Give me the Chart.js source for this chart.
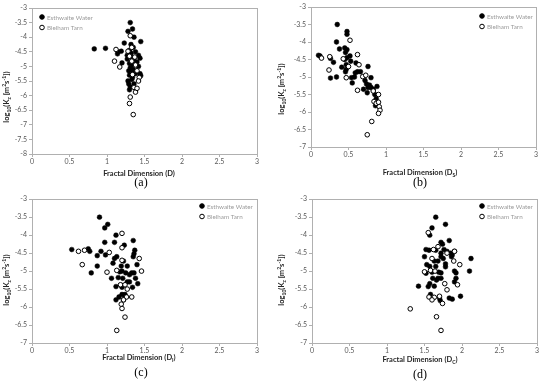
<!DOCTYPE html>
<html>
<head>
<meta charset="utf-8">
<script src="https://cdn.jsdelivr.net/npm/chart.js@4"></script>
<style>
  body { margin: 0; background: #fff; width: 550px; height: 386px; position: relative; overflow: hidden; }
  canvas { position: absolute; }
</style>
</head>
<body>
<canvas id="pa" width="275" height="193" style="left:0;top:0"></canvas>
<canvas id="pb" width="275" height="193" style="left:275px;top:0"></canvas>
<canvas id="pc" width="275" height="193" style="left:0;top:193px"></canvas>
<canvas id="pd" width="275" height="193" style="left:275px;top:193px"></canvas>
<script>
  var seriesNames = ['Esthwaite Water', 'Blelham Tarn'];
  var xTicks = [0, 0.5, 1, 1.5, 2, 2.5, 3];

  // (a) fractal dimension D
  var esthA = [[0.83,-4.4],[0.98,-4.38],[1.31,-3.5],[1.34,-3.72],[1.28,-3.8],[1.36,-4.0],[1.23,-4.2],[1.45,-4.15],
    [1.32,-4.25],[1.35,-4.35],[1.15,-4.5],[1.19,-4.48],[1.14,-4.57],[1.27,-4.62],[1.3,-4.45],[1.38,-4.5],[1.42,-4.62],
    [1.44,-4.72],[1.33,-4.68],[1.36,-4.8],[1.4,-4.85],[1.2,-4.88],[1.3,-4.9],[1.34,-4.95],[1.42,-5.0],[1.29,-5.15],
    [1.32,-5.2],[1.36,-5.18],[1.44,-5.25],[1.45,-5.32],[1.3,-5.3],[1.34,-5.38],[1.33,-5.45],[1.28,-5.5],[1.29,-5.6],
    [1.31,-5.7],[1.3,-5.8],[1.36,-5.6],[1.38,-5.25],[1.31,-5.05],[1.35,-5.1],[1.27,-4.75],[1.32,-4.55]];
  var blelA = [[1.12,-4.42],[1.1,-4.82],[1.17,-5.02],[1.31,-3.95],[1.33,-4.35],[1.28,-4.48],[1.37,-4.68],[1.33,-4.82],
    [1.38,-4.95],[1.4,-5.15],[1.43,-5.38],[1.42,-5.5],[1.36,-5.72],[1.38,-5.88],[1.31,-6.05],[1.3,-6.27],[1.35,-6.65],
    [1.4,-5.75],[1.34,-5.28],[1.3,-4.65]];

  // (b) Ds
  var esthB = [[0.1,-4.38],[0.12,-4.4],[0.35,-3.5],[0.48,-3.7],[0.48,-3.78],[0.34,-4.0],[0.38,-4.2],[0.45,-4.17],
    [0.48,-4.22],[0.46,-4.3],[0.26,-4.47],[0.3,-4.58],[0.45,-4.5],[0.48,-4.45],[0.52,-4.4],[0.53,-4.55],[0.41,-4.72],
    [0.47,-4.65],[0.46,-4.85],[0.47,-4.78],[0.6,-4.6],[0.62,-4.85],[0.59,-4.88],[0.66,-4.85],[0.76,-4.7],[0.26,-5.03],
    [0.34,-5.0],[0.54,-5.02],[0.58,-5.0],[0.55,-5.17],[0.8,-5.02],[0.72,-5.1],[0.74,-5.2],[0.78,-5.23],[0.8,-5.3],
    [0.7,-5.35],[0.75,-5.45],[0.83,-5.35],[0.88,-5.27],[0.85,-5.5],[0.87,-5.62],[0.86,-5.82],[0.76,-5.3]];
  var blelB = [[0.14,-4.46],[0.25,-4.42],[0.24,-4.8],[0.43,-4.48],[0.47,-5.02],[0.5,-4.7],[0.52,-3.95],[0.62,-4.36],
    [0.64,-4.65],[0.69,-4.99],[0.73,-4.95],[0.62,-5.38],[0.83,-5.4],[0.84,-5.7],[0.87,-5.75],[0.9,-5.5],[0.9,-5.72],
    [0.91,-5.85],[0.92,-5.95],[0.9,-6.04],[0.81,-6.27],[0.75,-6.65]];

  // (c) DI
  var esthC = [[0.53,-4.4],[0.75,-4.38],[0.77,-4.45],[0.9,-3.5],[0.97,-3.8],[1.01,-3.7],[0.97,-4.2],[1.12,-4.0],
    [1.1,-4.2],[1.23,-4.28],[0.92,-4.45],[0.98,-4.55],[0.87,-4.57],[0.87,-4.86],[0.79,-5.05],[1.13,-4.6],[1.1,-4.65],
    [1.08,-4.78],[1.22,-4.72],[1.35,-4.15],[1.37,-4.42],[1.36,-4.52],[1.35,-4.6],[1.4,-4.82],[1.27,-4.86],[1.19,-4.86],
    [1.2,-5.0],[1.25,-5.05],[1.17,-5.02],[1.06,-5.2],[1.15,-5.18],[1.21,-5.2],[1.3,-5.1],[1.33,-5.05],[1.36,-5.05],
    [1.38,-5.2],[1.41,-5.35],[1.3,-5.3],[1.27,-5.3],[1.2,-5.4],[1.12,-5.43],[1.2,-5.45],[1.34,-5.45],[1.24,-5.65],
    [1.2,-5.65],[1.16,-5.72],[1.12,-5.8],[1.22,-5.8],[1.24,-5.7]];
  var blelC = [[0.62,-4.45],[0.7,-4.42],[0.67,-4.82],[1.03,-4.48],[1.0,-5.03],[1.2,-3.95],[1.2,-4.35],[1.2,-4.7],
    [1.13,-4.98],[1.43,-4.65],[1.46,-5.0],[1.18,-5.38],[1.27,-5.5],[1.24,-5.38],[1.26,-5.72],[1.33,-5.72],[1.22,-5.8],
    [1.19,-5.92],[1.2,-6.04],[1.24,-6.28],[1.13,-6.65]];

  // (d) Dc
  var esthD = [[1.65,-3.5],[1.6,-3.8],[1.78,-3.7],[1.57,-4.0],[1.72,-4.2],[1.74,-4.25],[1.83,-4.15],[1.52,-4.4],
    [1.56,-4.42],[1.65,-4.42],[1.72,-4.5],[1.76,-4.4],[1.8,-4.45],[1.85,-4.5],[1.9,-4.45],[1.5,-4.6],[1.72,-4.6],
    [1.75,-4.65],[1.68,-4.72],[1.63,-4.72],[1.53,-4.82],[1.57,-4.87],[1.65,-4.87],[1.78,-4.8],[1.78,-4.88],[1.86,-4.6],
    [1.87,-4.55],[2.12,-4.65],[2.1,-5.0],[1.9,-5.0],[1.92,-5.05],[1.52,-5.06],[1.6,-5.03],[1.69,-5.03],[1.72,-5.05],
    [1.68,-5.2],[1.61,-5.2],[1.72,-5.2],[1.92,-5.2],[1.9,-5.3],[1.57,-5.35],[1.55,-5.43],[1.63,-5.42],[1.42,-5.42],
    [1.66,-5.25],[1.58,-5.65],[1.71,-5.82],[1.7,-5.75],[1.83,-5.75],[1.87,-5.78],[1.98,-5.7]];
  var blelD = [[1.55,-3.93],[1.68,-4.32],[1.62,-4.4],[1.8,-4.5],[1.9,-4.45],[1.6,-4.65],[1.89,-4.72],[1.97,-4.82],
    [1.58,-4.98],[1.64,-5.0],[1.5,-5.02],[1.77,-5.35],[1.8,-5.52],[1.94,-5.38],[1.56,-5.72],[1.63,-5.73],[1.7,-5.7],
    [1.6,-5.8],[1.74,-5.9],[1.31,-6.05],[1.66,-6.27],[1.72,-6.65]];

  var yTitle = [['log',0],['10',1],['(K',0],['z',1],[' [m',0],['2',2],['s',0],['-1',2],['])',0]];

  function rich(c, parts, x, y, size, weight) {
    var w = 0, i, p, fs;
    for (i = 0; i < parts.length; i++) {
      p = parts[i]; fs = p[1] ? size * 0.68 : size;
      c.font = weight + ' ' + fs + 'px Lato';
      w += c.measureText(p[0]).width;
    }
    var cx = x - w / 2;
    c.textAlign = 'left';
    c.textBaseline = 'alphabetic';
    for (i = 0; i < parts.length; i++) {
      p = parts[i]; fs = p[1] ? size * 0.68 : size;
      c.font = weight + ' ' + fs + 'px Lato';
      var dy = p[1] == 1 ? size * 0.28 : (p[1] == 2 ? -size * 0.38 : 0);
      c.fillText(p[0], cx, y + dy);
      cx += c.measureText(p[0]).width;
    }
  }

  function toPts(arr) {
    return arr.map(function (d) { return {x: d[0], y: d[1]}; });
  }

  function plainNum(v) { return String(Math.round(v * 10) / 10); }

  function panel(id, esth, blel, o) {
    var deco = {
      id: 'deco',
      afterDraw: function (chart) {
        var c = chart.ctx, a = chart.chartArea;
        c.save();
        c.strokeStyle = '#b0b0b0';
        c.lineWidth = 1;
        c.strokeRect(Math.round(a.left) + 0.5, Math.round(a.top) + 0.5,
          Math.round(a.right - a.left), Math.round(a.bottom - a.top));
        c.fillStyle = '#262626';
        c.save();
        c.translate(9, o.yTitleY);
        c.rotate(-Math.PI / 2);
        rich(c, yTitle, 0, 0, 7.5, 'bold');
        c.restore();
        rich(c, o.xTitle, o.xTitleX, o.xTitleY, 7.5, 'bold');
        c.font = '12px "Liberation Serif"';
        c.textAlign = 'center';
        c.textBaseline = 'middle';
        c.fillStyle = '#000';
        c.fillText(o.cap, o.capX, o.capY);
        // legend
        c.font = '6.3px Lato';
        c.textAlign = 'left';
        for (var i = 0; i < 2; i++) {
          var ly = o.legY + i * 10.5;
          c.beginPath();
          c.arc(o.legX, ly, 2.3, 0, Math.PI * 2);
          c.fillStyle = i == 0 ? '#000' : '#fff';
          c.fill();
          c.strokeStyle = '#000';
          c.stroke();
          c.fillStyle = '#9a9a9a';
          c.fillText(seriesNames[i], o.legX + 5, ly + 0.5);
        }
        c.restore();
      }
    };
    var tickFont = {family: 'Lato', size: 7};
    new Chart(document.getElementById(id), {
      type: 'scatter',
      data: {
        datasets: [{
          label: seriesNames[0], data: toPts(esth), order: 2,
          pointRadius: 2.4, pointBackgroundColor: '#000', pointBorderColor: '#000', pointBorderWidth: 0.5
        }, {
          label: seriesNames[1], data: toPts(blel), order: 1,
          pointRadius: 2.3, pointBackgroundColor: '#fff', pointBorderColor: '#000', pointBorderWidth: 1
        }]
      },
      options: {
        responsive: false,
        animation: false,
        layout: {padding: {left: 0, top: o.top, right: 275 - o.right, bottom: 0}},
        plugins: {legend: {display: false}, tooltip: {enabled: false}},
        scales: {
          x: {
            type: 'linear', min: 0, max: 3,
            afterBuildTicks: function (s) { s.ticks = xTicks.map(function (v) { return {value: v}; }); },
            afterFit: function (s) { s.height = 193 - o.bottom; },
            grid: {drawOnChartArea: false, drawTicks: true, tickLength: 3, color: '#b0b0b0'},
            border: {color: '#b0b0b0'},
            ticks: {font: tickFont, color: '#595959', padding: 1, maxRotation: 0, callback: plainNum}
          },
          y: {
            type: 'linear', min: o.ymin, max: -3,
            ticks: {stepSize: 0.5, font: tickFont, color: '#595959', padding: 2, callback: plainNum},
            afterFit: function (s) { s.width = o.left; },
            grid: {drawOnChartArea: false, drawTicks: true, tickLength: 3, color: '#b0b0b0'},
            border: {color: '#b0b0b0'}
          }
        }
      },
      plugins: [deco]
    });
  }

  panel('pa', esthA, blelA, {ymin: -8, left: 32, top: 8, right: 257, bottom: 154,
    yTitleY: 97, xTitle: [['Fractal Dimension (D)',0]], xTitleX: 139, xTitleY: 176,
    cap: '(a)', capX: 141, capY: 183, legX: 42, legY: 17});
  panel('pb', esthB, blelB, {ymin: -7, left: 36, top: 7, right: 261, bottom: 147,
    yTitleY: 89, xTitle: [['Fractal Dimension (D',0],['S',1],[')',0]], xTitleX: 145, xTitleY: 175,
    cap: '(b)', capX: 145, capY: 183, legX: 207, legY: 16});
  panel('pc', esthC, blelC, {ymin: -7, left: 32, top: 5, right: 257, bottom: 150,
    yTitleY: 87, xTitle: [['Fractal Dimension (D',0],['I',1],[')',0]], xTitleX: 139, xTitleY: 167,
    cap: '(c)', capX: 141, capY: 180, legX: 202, legY: 13});
  panel('pd', esthD, blelD, {ymin: -7, left: 37, top: 5, right: 262, bottom: 150,
    yTitleY: 87, xTitle: [['Fractal Dimension (D',0],['C',1],[')',0]], xTitleX: 145, xTitleY: 169,
    cap: '(d)', capX: 145, capY: 182, legX: 207, legY: 13});
</script>
</body>
</html>
